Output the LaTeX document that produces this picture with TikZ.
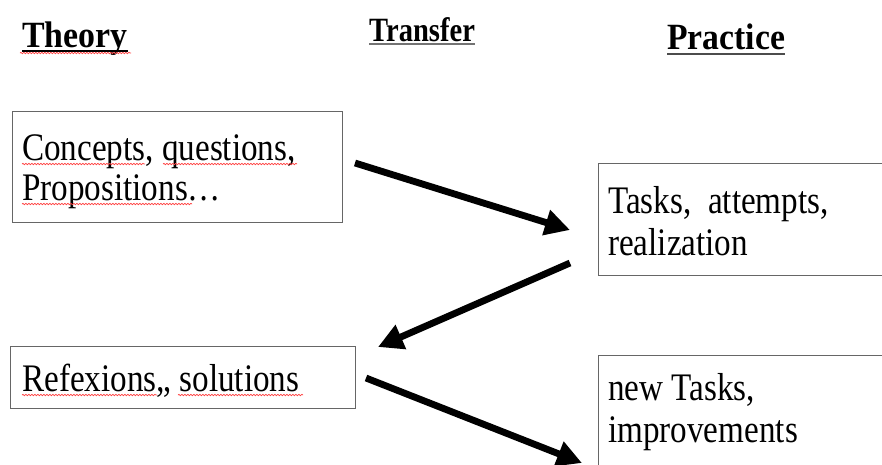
\documentclass[tikz,border=0pt]{standalone}
\usepackage{fontspec}
\setmainfont{Liberation Serif}
\usetikzlibrary{arrows.meta,decorations.pathmorphing}
\newcommand{\bodytxt}[1]{\scalebox{0.85}[1]{\fontsize{39}{41}\selectfont #1}}
\begin{document}
\begin{tikzpicture}[x=1pt,y=-1pt,
  box/.style={draw=black!60,line width=1.3pt,anchor=north west,inner sep=0pt},
  txt/.style={anchor=base west,inner sep=0pt},
  head/.style={anchor=base west,inner sep=0pt},
  bigarrow/.style={line width=6.8pt,-{Triangle[length=25pt,width=25pt]}},
  squig/.style={red!75,line width=0.7pt,decorate,decoration={snake,amplitude=0.7pt,segment length=3pt}}]
\useasboundingbox (0,0) rectangle (882,464);
% headings
\node[head] (th) at (22,47) {\scalebox{0.915}[1]{\bfseries\fontsize{37}{40}\selectfont Theory}};
\node[head] (tr) at (369,41) {\scalebox{0.84}[1]{\bfseries\fontsize{34}{40}\selectfont Transfer}};
\node[head] (pr) at (667,49) {\scalebox{0.91}[1]{\bfseries\fontsize{37}{40}\selectfont Practice}};
\draw[line width=1.2pt] ([yshift=-4pt]th.base west) -- ([yshift=-4pt]th.base east);
\draw[black!55,line width=1.8pt] ([yshift=-3pt]tr.base west) -- ([yshift=-3pt]tr.base east);
\draw[black!70,line width=2.6pt] ([yshift=-5pt]pr.base west) -- ([yshift=-5pt]pr.base east);
% boxes
\node[box,minimum width=330pt,minimum height=111pt] (c) at (12,111) {};
\node[box,minimum width=320pt,minimum height=112pt] (t) at (598,163) {};
\node[box,minimum width=345pt,minimum height=62pt] (r) at (10,346) {};
\node[box,minimum width=320pt,minimum height=130pt] (n) at (598,355) {};
% box texts
\node[txt] (c1) at (22,160) {\bodytxt{Concepts, questions,}};
\node[txt] (c2) at (22,200) {\bodytxt{Propositions\ldots}};
\node[txt] (t1) at (608,213) {\bodytxt{Tasks,\ \ attempts,}};
\node[txt] (t2) at (608,255) {\bodytxt{realization}};
\node[txt] (r1) at (22,391) {\bodytxt{Refexions,, solutions}};
\node[txt] (n1) at (608,400) {\bodytxt{new Tasks,}};
\node[txt] (n2) at (608,442) {\bodytxt{improvements}};
% arrows
\coordinate (a1s) at (355,163);
\coordinate (a1e) at (570,230);
\coordinate (a2s) at (570,263);
\coordinate (a2e) at (378,347);
\coordinate (a3s) at (366,378);
\coordinate (a3e) at (582,463);
\draw[bigarrow] (a1s) -- (a1e);
\draw[bigarrow] (a2s) -- (a2e);
\draw[bigarrow] (a3s) -- (a3e);
% spell-check squiggles
\draw[squig] (20,53) -- (131,53);
\draw[squig] (22,164) -- (145,164);
\draw[squig] (163,164) -- (297,164);
\draw[squig] (22,204) -- (192,204);
\draw[squig] (22,395) -- (157,395);
\draw[squig] (178,395) -- (303,395);
\end{tikzpicture}
\end{document}
